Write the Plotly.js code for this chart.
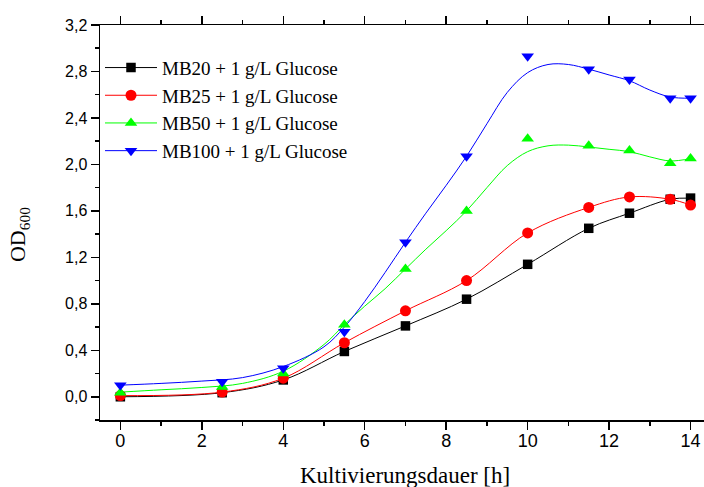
<!DOCTYPE html>
<html>
<head>
<meta charset="utf-8">
<script src="https://cdn.plot.ly/plotly-3.0.1.min.js"></script>
<style>html,body{margin:0;padding:0;background:#fff;overflow:hidden}</style>
</head>
<body>
<div id="chart" style="width:704px;height:487px"></div>
<script>
// Measured time points [h]
var timeH = [0, 2.5, 4, 5.5, 7, 8.5, 10, 11.5, 12.5, 13.5, 14];
// OD600 readings
var mb20 = [0.00, 0.035, 0.145, 0.39, 0.61, 0.84, 1.14, 1.45, 1.58, 1.70, 1.71];
var mb25 = [0.01, 0.04, 0.16, 0.465, 0.74, 1.00, 1.41, 1.63, 1.72, 1.70, 1.65];
var mb50 = [0.035, 0.085, 0.20, 0.62, 1.10, 1.60, 2.22, 2.16, 2.12, 2.01, 2.05];
var mb100 = [0.10, 0.13, 0.245, 0.56, 1.33, 2.07, 2.93, 2.82, 2.73, 2.57, 2.57];
// Fitted curves for MB50 and MB100
var fitX = [0, 1, 2, 3, 4, 5, 5.5, 6, 6.5, 7, 7.5, 8, 8.5, 9, 9.5, 10, 10.5, 11, 11.5, 12, 12.5, 13, 13.5, 14];
var fit50 = [0.04, 0.06, 0.08, 0.115, 0.22, 0.45, 0.62, 0.78, 0.93, 1.10, 1.27, 1.43, 1.60, 1.80, 1.99, 2.11, 2.16, 2.166, 2.15, 2.13, 2.11, 2.065, 2.03, 2.05];
var fit100 = [0.10, 0.115, 0.135, 0.165, 0.26, 0.43, 0.60, 0.82, 1.07, 1.33, 1.58, 1.82, 2.07, 2.35, 2.62, 2.79, 2.86, 2.86, 2.82, 2.77, 2.72, 2.64, 2.58, 2.57];
// Legend labels and axis titles
var names = ['MB20 + 1 g/L Glucose', 'MB25 + 1 g/L Glucose', 'MB50 + 1 g/L Glucose', 'MB100 + 1 g/L Glucose'];
var xTitle = 'Kultivierungsdauer [h]';
var yTitle = 'OD<sub>600</sub>';
var colors = ['#000000', '#ff0000', '#00ff00', '#0000ff'];
var symbols = ['square', 'circle', 'triangle-up', 'triangle-down'];
var sizes = [9.5, 11, 11, 11];
var yTickVals = [0, 0.4, 0.8, 1.2, 1.6, 2.0, 2.4, 2.8, 3.2];
var xTickVals = [0, 2, 4, 6, 8, 10, 12, 14];

var lineData = [
  {x: timeH, y: mb20},
  {x: timeH, y: mb25},
  {x: fitX, y: fit50},
  {x: fitX, y: fit100}
];
var pointData = [mb20, mb25, mb50, mb100];

var traces = [];
for (var i = 0; i < 4; i++) {
  traces.push({
    x: lineData[i].x, y: lineData[i].y, mode: 'lines', type: 'scatter',
    line: {color: colors[i], width: 1, shape: 'spline', smoothing: 1},
    showlegend: false, hoverinfo: 'skip'
  });
}
for (var i = 0; i < 4; i++) {
  traces.push({
    x: timeH, y: pointData[i], mode: 'markers', type: 'scatter',
    marker: {color: colors[i], symbol: symbols[i], size: sizes[i], line: {width: 0}},
    showlegend: false
  });
}
for (var i = 0; i < 4; i++) {
  traces.push({
    x: [null], y: [null], mode: 'lines+markers', type: 'scatter', name: names[i],
    line: {color: colors[i], width: 1},
    marker: {color: colors[i], symbol: symbols[i], size: sizes[i], line: {width: 0}},
    showlegend: true
  });
}

var serif = 'Liberation Serif, Times New Roman, serif';
var layout = {
  width: 704, height: 487,
  margin: {l: 100, r: 0, t: 25, b: 67, autoexpand: false},
  paper_bgcolor: '#ffffff', plot_bgcolor: '#ffffff',
  separators: ',.',
  showlegend: true,
  legend: {
    x: 0.0, y: 0.94, xanchor: 'left', yanchor: 'top',
    bgcolor: 'rgba(0,0,0,0)', borderwidth: 0,
    font: {family: serif, size: 19, color: '#000'},
    itemwidth: 52, tracegroupgap: 0
  },
  xaxis: {
    range: [-0.5, 14.33], tickmode: 'array', tickvals: xTickVals,
    ticktext: xTickVals.map(String), ticklabelstandoff: -4,
    ticks: 'outside', ticklen: 8, tickwidth: 1.5, tickcolor: '#000',
    minor: {dtick: 1, tick0: 0, ticks: 'outside', ticklen: 4, tickwidth: 1.5, tickcolor: '#000'},
    showline: true, linewidth: 1.5, linecolor: '#000', mirror: 'ticks',
    showgrid: false, zeroline: false,
    tickfont: {family: 'Liberation Sans, Arial, sans-serif', size: 18, color: '#000'}
  },
  yaxis: {
    range: [-0.2, 3.2], tickmode: 'array', tickvals: yTickVals,
    ticktext: yTickVals.map(function (v) { return v.toFixed(1).replace('.', ','); }),
    ticks: 'outside', ticklen: 8, tickwidth: 1.5, tickcolor: '#000',
    minor: {dtick: 0.2, tick0: 0, ticks: 'outside', ticklen: 4, tickwidth: 1.5, tickcolor: '#000'},
    showline: true, linewidth: 1.5, linecolor: '#000', mirror: false,
    showgrid: false, zeroline: false,
    tickfont: {family: 'Liberation Sans, Arial, sans-serif', size: 16, color: '#000'}
  },
  annotations: [
    {text: xTitle, xref: 'paper', yref: 'paper', x: 0.505, y: -0.103,
     xanchor: 'center', yanchor: 'top', showarrow: false,
     font: {family: serif, size: 23, color: '#000'}},
    {text: yTitle, xref: 'paper', yref: 'paper', x: -0.133, y: 0.47,
     xanchor: 'center', yanchor: 'middle', showarrow: false, textangle: -90,
     font: {family: serif, size: 22, color: '#000'}}
  ]
};

Plotly.newPlot('chart', traces, layout, {displayModeBar: false, staticPlot: true});
</script>
</body>
</html>
